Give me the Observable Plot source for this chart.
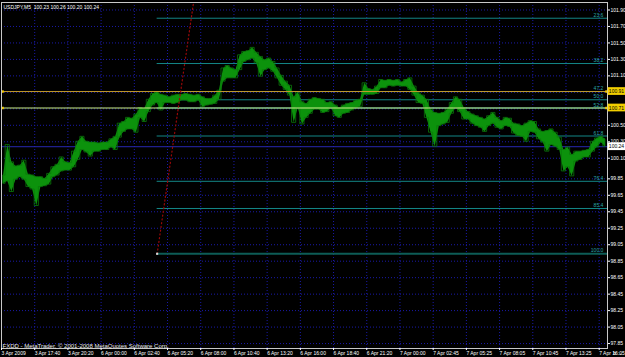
<!DOCTYPE html>
<html>
<head>
<meta charset="utf-8">
<script src="https://cdn.jsdelivr.net/npm/d3@7"></script>
<script src="https://cdn.jsdelivr.net/npm/@observablehq/plot@0.6"></script>
<style>
  html, body { margin: 0; padding: 0; background: #000; }
  #chart { width: 625px; height: 357px; overflow: hidden; }
</style>
</head>
<body>
<div id="chart"></div>
<script>
// ---------- data ----------
const title = "USDJPY,M5  100.23 100.26 100.20 100.24";
const copyright = "FXDD - MetaTrader, \u00A9 2001-2008 MetaQuotes Software Corp.";

// time axis: bar index of each label (M5 bars) and its text
const xTickBars = [0, 32, 64, 96, 128, 160, 192, 224, 256, 288, 320, 352, 384, 416, 448, 480, 512, 544, 576];
const xLabels = ["3 Apr 2009", "3 Apr 17:40", "3 Apr 20:20", "6 Apr 00:00", "6 Apr 02:40", "6 Apr 05:20",
  "6 Apr 08:00", "6 Apr 10:40", "6 Apr 13:20", "6 Apr 16:00", "6 Apr 18:40", "6 Apr 21:20",
  "7 Apr 00:00", "7 Apr 02:45", "7 Apr 05:25", "7 Apr 08:05", "7 Apr 10:45", "7 Apr 13:25", "7 Apr 16:05"];

// price grid / axis labels
const yTicks = [101.90, 101.70, 101.50, 101.30, 101.10, 100.90, 100.70, 100.50, 100.30, 100.10,
  99.85, 99.65, 99.45, 99.25, 99.05, 98.85, 98.65, 98.45, 98.25, 98.05, 97.85];

// price range of each block of 4 M5 bars (20 minutes), left to right
const blockBars = 4;
const highs = [
  99.89,100.26,100.05,100.00,100.01,100.07,99.90,99.89,99.87,99.87,
  99.85,99.91,99.99,100.02,100.11,100.05,100.04,100.18,100.30,100.36,
  100.30,100.29,100.29,100.28,100.29,100.29,100.33,100.36,100.52,100.54,
  100.59,100.58,100.63,100.71,100.70,100.81,100.88,100.90,100.87,100.86,
  100.84,100.86,100.87,100.87,100.88,100.87,100.86,100.87,100.84,100.82,
  100.82,100.86,100.92,101.19,101.22,101.19,101.17,101.35,101.39,101.40,
  101.44,101.38,101.33,101.29,101.31,101.27,101.19,101.10,101.03,100.98,
  100.84,100.90,100.78,100.76,100.81,100.83,100.82,100.81,100.77,100.78,
  100.74,100.71,100.74,100.76,100.77,100.80,100.81,101.01,100.94,100.93,
  100.97,101.05,101.04,101.05,101.04,101.05,101.02,101.05,101.07,100.97,
  100.89,100.86,100.81,100.69,100.65,100.64,100.65,100.69,100.77,100.84,
  100.81,100.71,100.66,100.63,100.61,100.59,100.57,100.61,100.65,100.59,
  100.55,100.59,100.58,100.52,100.51,100.49,100.52,100.55,100.54,100.45,
  100.42,100.43,100.45,100.41,100.35,100.20,100.23,100.14,100.18,100.18,
  100.19,100.20,100.30,100.34,100.36,100.33];
const lows = [
  99.79,99.82,99.69,99.84,99.87,99.84,99.75,99.72,99.52,99.75,
  99.76,99.78,99.87,99.89,99.94,99.95,99.95,99.99,100.08,100.20,
  100.17,100.12,100.18,100.18,100.20,100.20,100.23,100.20,100.35,100.42,
  100.45,100.45,100.41,100.59,100.54,100.66,100.74,100.77,100.68,100.77,
  100.77,100.76,100.77,100.80,100.80,100.78,100.78,100.80,100.72,100.74,
  100.75,100.76,100.81,101.03,101.07,101.07,101.07,101.17,101.27,101.29,
  101.31,101.25,101.09,101.17,101.19,101.15,101.07,100.98,100.93,100.86,
  100.53,100.71,100.51,100.59,100.64,100.69,100.69,100.65,100.66,100.71,
  100.61,100.59,100.64,100.65,100.68,100.71,100.72,100.87,100.87,100.87,
  100.88,100.95,100.95,100.98,100.97,100.98,100.97,100.97,100.93,100.86,
  100.77,100.76,100.59,100.41,100.24,100.49,100.51,100.53,100.64,100.71,
  100.66,100.57,100.57,100.52,100.49,100.47,100.42,100.49,100.52,100.47,
  100.45,100.49,100.48,100.40,100.37,100.36,100.30,100.42,100.41,100.33,
  100.29,100.18,100.26,100.24,100.20,99.94,99.99,99.88,100.06,100.08,
  100.11,100.11,100.18,100.23,100.29,100.24];

// Fibonacci retracement
const fibLabels = ["23.6", "38.2", "47.2", "50.0", "52.8", "61.8", "76.4", "85.4", "100.0"];
const fibPrices = [101.80, 101.25, 100.91, 100.81, 100.71, 100.37, 99.82, 99.49, 98.94];
const fibStartBar = 150;
const trendBars = [150, 193];
const trendPrices = [98.94, 102.68];

// horizontal lines and price labels
const hLinePrices = [100.91, 100.71];
const bidPrice = 100.24;

// ---------- build ----------
const lastBar = 584;
const blocks = highs.map((h, i) => ({b: i * blockBars + blockBars / 2, hi: h, lo: lows[i]}));
const fib = fibPrices.map((p, i) => ({p, label: fibLabels[i]}));
const trend = trendBars.map((b, i) => ({b, p: trendPrices[i]}));
// axis labels hidden under the yellow price boxes are left out of the axis text
const yAxisLabels = yTicks.filter(t => !hLinePrices.some(h => Math.abs(h - t) < 0.05));

const font = "Liberation Sans, Arial, sans-serif";
const grid = "#1a1aa8";
const teal = "#138686";

const chart = Plot.plot({
  width: 625,
  height: 357,
  marginLeft: 1,
  marginRight: 18,
  marginTop: 2,
  marginBottom: 9,
  x: {domain: [0, lastBar], axis: null},
  y: {domain: [97.79, 101.991], axis: null},
  style: {background: "#000", color: "#fff", fontFamily: font, overflow: "visible"},
  marks: [
    // dotted grid
    Plot.ruleY(yTicks, {stroke: grid, strokeDasharray: "1,2"}),
    Plot.ruleX(xTickBars, {stroke: grid, strokeDasharray: "1,2"}),
    // Fibonacci levels
    Plot.ruleY(fib.slice(0, -1), {y: "p", x1: fibStartBar, x2: lastBar, stroke: teal, strokeWidth: 1}),
    Plot.ruleY(fib.slice(-1), {y: "p", x1: fibStartBar, x2: lastBar, stroke: "#0d5c56", strokeWidth: 2}),
    Plot.text(fib, {x: 580, y: "p", text: "label", textAnchor: "end", dy: -3, fill: "#2aa6a6", fontSize: 5}),
    // bid line
    Plot.ruleY([bidPrice], {stroke: "#2727b0"}),
    // price bars (high-low band)
    Plot.areaY(blocks, {x: "b", y1: "lo", y2: "hi", fill: "#0c920c", curve: "linear"}),
    Plot.areaY(blocks, {x: "b", y1: "lo", y2: "hi", fill: "none", stroke: "#0a7a0a", strokeWidth: 0.8, curve: "step"}),
    // horizontal lines
    Plot.ruleY([hLinePrices[0]], {stroke: "#c49a2c"}),
    Plot.ruleY([hLinePrices[1]], {stroke: "#cdf08c"}),
    Plot.dot(hLinePrices, {x: 1, y: d => d, symbol: "square", r: 1.4, fill: "#f0c800"}),
    Plot.dot(hLinePrices, {x: 583, y: d => d, symbol: "square", r: 1.4, fill: "#f0c800"}),
    // trend line of the retracement
    Plot.line(trend, {x: "b", y: "p", stroke: "#9a0808", strokeWidth: 1.2, strokeDasharray: "1.2,2.6", clip: true}),
    Plot.dot(trend.slice(0, 1), {x: "b", y: "p", symbol: "square", r: 1.2, fill: "#d8d8d8"}),
    // frame
    Plot.frame({stroke: "#c8c8c8"}),
    // axes
    Plot.axisY(yAxisLabels, {anchor: "right", tickSize: 2, tickPadding: 1, fontSize: 5, color: "#fff",
      tickFormat: d => d.toFixed(2)}),
    Plot.axisX(xTickBars, {anchor: "bottom", tickSize: 2, tickPadding: 1, fontSize: 5, color: "#fff",
      textAnchor: "start", tickFormat: (d, i) => xLabels[i]}),
    // price label boxes
    Plot.rect(hLinePrices, {x1: 584.6, x2: 601.5, y1: d => d - 0.047, y2: d => d + 0.047, fill: "#f2cf00"}),
    Plot.rect([bidPrice], {x1: 584.6, x2: 601.5, y1: d => d - 0.047, y2: d => d + 0.047, fill: "#ffffff"}),
    Plot.text(hLinePrices.concat([bidPrice]), {x: 585.3, y: d => d, text: d => d.toFixed(2),
      textAnchor: "start", fill: "#000", fontSize: 5}),
    // title and copyright
    Plot.text([title], {frameAnchor: "top-left", dx: 2, dy: 3, lineAnchor: "top", textAnchor: "start",
      fill: "#fff", fontSize: 5}),
    Plot.text([copyright], {frameAnchor: "bottom-left", dx: 1, dy: -1, lineAnchor: "bottom", textAnchor: "start",
      fill: "#e8e8e8", fontSize: 6})
  ]
});
document.getElementById("chart").appendChild(chart);
</script>
</body>
</html>
